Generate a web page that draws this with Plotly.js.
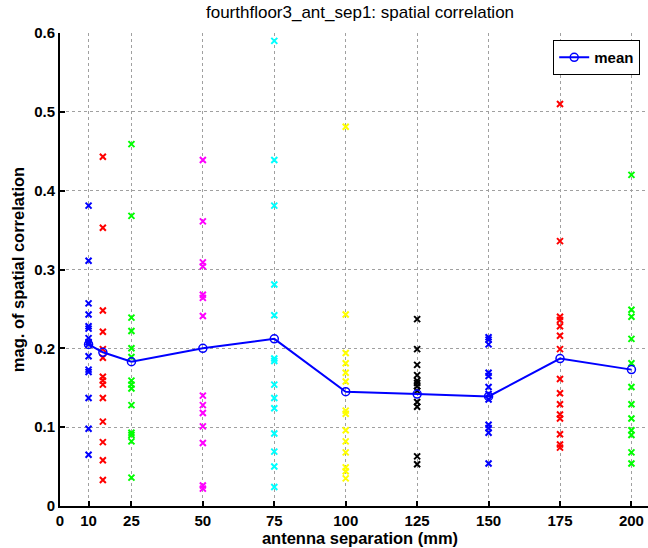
<!DOCTYPE html>
<html>
<head>
<meta charset="utf-8">
<script src="https://cdn.plot.ly/plotly-3.0.1.min.js"></script>
<style>html,body{margin:0;padding:0;background:#fff;overflow:hidden;}#wrap{width:648px;height:548px;overflow:hidden;}#chart{width:662px;height:548px;}</style>
</head>
<body>
<div id="wrap"><div id="chart"></div></div>
<script>
const separations = [10, 15, 25, 50, 75, 100, 125, 150, 175, 200];
const seriesColors = ['#0000ff', '#ff0000', '#00ff00', '#ff00ff', '#00ffff', '#ffff00', '#000000', '#0000ff', '#ff0000', '#00ff00'];

const sep10 = [0.381, 0.311, 0.257, 0.243, 0.228, 0.225, 0.213, 0.208, 0.205, 0.190, 0.173, 0.170, 0.137, 0.098, 0.065];
const sep15 = [0.443, 0.353, 0.248, 0.221, 0.199, 0.188, 0.164, 0.159, 0.154, 0.137, 0.107, 0.081, 0.058, 0.033];
const sep25 = [0.459, 0.368, 0.239, 0.222, 0.200, 0.189, 0.159, 0.154, 0.149, 0.128, 0.093, 0.090, 0.082, 0.036];
const sep50 = [0.439, 0.361, 0.309, 0.304, 0.268, 0.264, 0.241, 0.140, 0.128, 0.118, 0.101, 0.080, 0.026, 0.022];
const sep75 = [0.590, 0.439, 0.381, 0.281, 0.242, 0.187, 0.184, 0.154, 0.137, 0.124, 0.092, 0.069, 0.050, 0.024];
const sep100 = [0.481, 0.243, 0.194, 0.181, 0.169, 0.158, 0.121, 0.117, 0.096, 0.082, 0.068, 0.049, 0.044, 0.035];
const sep125 = [0.237, 0.199, 0.179, 0.166, 0.159, 0.156, 0.152, 0.146, 0.132, 0.126, 0.063, 0.053];
const sep150 = [0.214, 0.211, 0.205, 0.169, 0.165, 0.151, 0.142, 0.135, 0.103, 0.099, 0.093, 0.054];
const sep175 = [0.510, 0.336, 0.240, 0.236, 0.228, 0.216, 0.199, 0.161, 0.143, 0.129, 0.116, 0.111, 0.091, 0.078, 0.074];
const sep200 = [0.420, 0.249, 0.240, 0.212, 0.181, 0.151, 0.129, 0.111, 0.096, 0.090, 0.068, 0.054];
const allSeries = [sep10, sep15, sep25, sep50, sep75, sep100, sep125, sep150, sep175, sep200];

const meanValues = [0.205, 0.195, 0.183, 0.200, 0.212, 0.145, 0.142, 0.139, 0.187, 0.173];

const xTickVals = [0, 10, 25, 50, 75, 100, 125, 150, 175, 200];
const yTickVals = [0, 0.1, 0.2, 0.3, 0.4, 0.5, 0.6];
const yTickText = ['0', '0.1', '0.2', '0.3', '0.4', '0.5', '0.6'];

const FONT = '"Liberation Sans Narrow", "Arial Narrow", "Liberation Sans", Arial, sans-serif';
const tickFont = {family: FONT, size: 15, color: '#000', weight: 'bold'};
const axisTitleFont = {family: FONT, size: 16.5, color: '#000', weight: 'bold'};

const traces = allSeries.map((vals, i) => ({
  type: 'scatter',
  mode: 'markers',
  x: vals.map(() => separations[i]),
  y: vals,
  showlegend: false,
  hoverinfo: 'skip',
  marker: {symbol: 'x-thin', size: 6, line: {width: 2, color: seriesColors[i]}, color: seriesColors[i]}
}));

traces.push({
  type: 'scatter',
  mode: 'lines+markers',
  name: 'mean',
  x: separations,
  y: meanValues,
  line: {color: '#0000ff', width: 2},
  marker: {symbol: 'circle-open', size: 8, color: '#0000ff', line: {width: 1.5, color: '#0000ff'}}
});

const layout = {
  width: 662,
  height: 548,
  margin: {l: 60, r: 2, t: 33, b: 42},
  paper_bgcolor: '#ffffff',
  plot_bgcolor: '#ffffff',
  font: {family: FONT, size: 14, color: '#000'},
  title: {text: 'fourthfloor3_ant_sep1: spatial correlation', xref: 'paper', x: 0.5, xanchor: 'center', y: 0.988, yanchor: 'top', font: {family: FONT, size: 17, color: '#000'}},
  xaxis: {
    range: [0, 210],
    tickmode: 'array',
    tickvals: xTickVals,
    ticktext: xTickVals.map(String),
    ticks: 'inside',
    ticklen: 5,
    tickwidth: 2,
    tickcolor: '#000',
    showline: true,
    linecolor: '#000',
    linewidth: 2,
    showgrid: true,
    gridcolor: '#a0a0a0',
    gridwidth: 1,
    griddash: 'dot',
    zeroline: false,
    tickfont: tickFont,
    title: {text: 'antenna separation (mm)', font: axisTitleFont, standoff: 1}
  },
  yaxis: {
    range: [0, 0.6],
    tickmode: 'array',
    tickvals: yTickVals,
    ticktext: yTickText,
    ticks: 'inside',
    ticklen: 5,
    tickwidth: 2,
    tickcolor: '#000',
    showline: true,
    linecolor: '#000',
    linewidth: 2,
    showgrid: true,
    gridcolor: '#a0a0a0',
    gridwidth: 1,
    griddash: 'dot',
    zeroline: false,
    tickfont: tickFont,
    title: {text: 'mag. of spatial correlation', font: axisTitleFont, standoff: 5}
  },
  legend: {
    x: 0.822, xanchor: 'left', y: 0.985, yanchor: 'top',
    bgcolor: '#ffffff', bordercolor: '#000', borderwidth: 1,
    itemwidth: 30,
    font: tickFont
  },
  showlegend: true
};

Plotly.newPlot('chart', traces, layout, {displayModeBar: false, staticPlot: true});
</script>
</body>
</html>
